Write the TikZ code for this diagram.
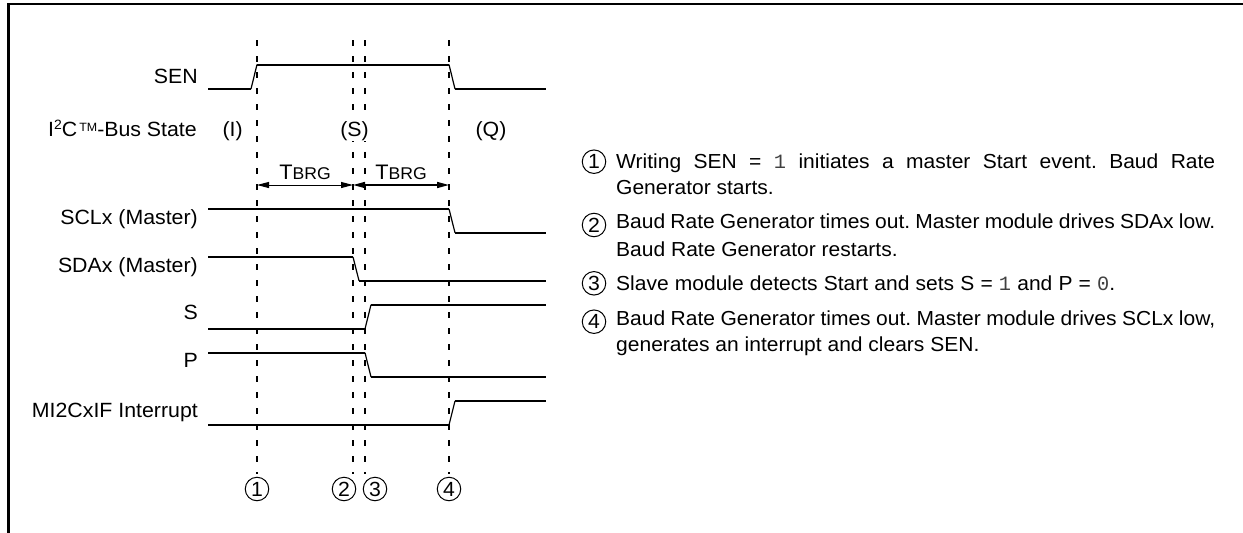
\documentclass[tikz,border=0pt]{standalone}
\usepackage{fontspec}
\setmainfont[FakeStretch=1.035]{Liberation Sans}
\newfontfamily\monof{Liberation Mono}
\usetikzlibrary{arrows.meta}
\newcommand{\mydig}[1]{{\monof\color{black!75}#1}}
\newcommand{\fitline}[2]{\makebox[#1][s]{#2}}
\tikzset{
  x=1pt,y=-1pt,
  signal/.style={line width=2pt,black,line cap=butt},
  ramp/.style={line width=1.2pt,black},
  guide/.style={line width=2pt,dash pattern=on 6pt off 10pt},
  frameline/.style={line width=2.4pt},
  span/.style={line width=#1,{Triangle[length=12pt,width=6pt]}-{Triangle[length=12pt,width=6pt]}},
  lab/.style={anchor=base east,inner sep=0pt,font=\fontsize{20.6}{24}\selectfont},
  state/.style={anchor=base,inner sep=0pt,font=\fontsize{20.6}{24}\selectfont},
  tbrg/.style={anchor=base,inner sep=0pt,font=\fontsize{21}{24}\selectfont},
  num/.style={circle,draw,line width=1pt,minimum size=23.5pt,inner sep=0pt,font=\fontsize{20.5}{22}\selectfont},
  note/.style={anchor=base west,inner sep=0pt,font=\frenchspacing\fontsize{20.3}{24}\selectfont},
}
\begin{document}
\begin{tikzpicture}
\useasboundingbox (0,0) rectangle (1243,533);
\draw[frameline] (8.5,533) -- (8.5,4) -- (1243,4);

% guides
\node[num] (c1) at (257,489) {1};
\node[num] (c2) at (344,489) {2};
\node[num] (c3) at (375,489) {3};
\node[num] (c4) at (449,489) {4};
\coordinate (t1) at (257,40);
\coordinate (t2) at (353,40);
\coordinate (t3) at (365,40);
\coordinate (t4) at (449,40);
\coordinate (b1) at (257,474);
\coordinate (b2) at (353,474);
\coordinate (b3) at (365,474);
\coordinate (b4) at (449,474);
\draw[guide] (t1) -- (b1);
\draw[guide] (t2) -- (b2);
\draw[guide] (t3) -- (b3);
\draw[guide] (t4) -- (b4);

% signals
\draw[signal] (208,89) -- (251,89) (257,64.5) -- (449,64.5) (455,89) -- (546,89);
\draw[ramp] (251,89) -- (257,64.5) (449,64.5) -- (455,89);
\draw[signal] (208,209) -- (449,209) (455,232.7) -- (546,232.7);
\draw[ramp] (449,209) -- (455,232.7);
\draw[signal] (208,257) -- (353,257) (359,280.7) -- (546,280.7);
\draw[ramp] (353,257) -- (359,280.7);
\draw[signal] (208,329) -- (365,329) (371,304.7) -- (546,304.7);
\draw[ramp] (365,329) -- (371,304.7);
\draw[signal] (208,352.7) -- (365,352.7) (371,377) -- (546,377);
\draw[ramp] (365,352.7) -- (371,377);
\draw[signal] (208,425) -- (449,425) (455,401) -- (546,401);
\draw[ramp] (449,425) -- (455,401);

% labels
\node[lab] (lsen) at (198,83) {SEN};
\node[lab] (lbus) at (197,136) {I\raisebox{6.5pt}{\fontsize{13.5}{13}\selectfont 2}C\raisebox{4.5pt}{\fontsize{12}{12}\selectfont\,TM}-Bus State};
\node[lab] (lscl) at (198,224) {SCLx (Master)};
\node[lab] (lsda) at (198,272) {SDAx (Master)};
\node[lab] (ls) at (198,319) {S};
\node[lab] (lp) at (198,367) {P};
\node[lab] (lmi) at (198,417) {MI2CxIF Interrupt};

\node[state] (si) at (232.7,136) {(I)};
\node[state,fill=white,inner ysep=1pt,inner xsep=1pt] (ss) at (354.5,136) {(S)};
\node[state] (sq) at (491,136) {(Q)};

% T_BRG spans
\coordinate (a1) at (257,185);
\coordinate (a2) at (353,185);
\coordinate (a3) at (449,185);
\draw[span=1pt] (a1) -- (a2);
\draw[span=1.6pt] (a2) -- (a3);
\node[tbrg] (tb1) at (305,179) {T{\fontsize{17}{17}\selectfont BRG}};
\node[tbrg] (tb2) at (401,179) {T{\fontsize{17}{17}\selectfont BRG}};

% notes
\node[num] (n1) at (594,161.7) {1};
\node[num] (n2) at (594,225) {2};
\node[num] (n3) at (594,283.3) {3};
\node[num] (n4) at (594,321.7) {4};
\node[note] (t1a) at (616,168.3) {\fitline{599pt}{Writing SEN = \mydig{1} initiates a master Start event. Baud Rate}};
\node[note] (t1b) at (616,194) {Generator starts.};
\node[note] (t2a) at (616,228.7) {\fitline{599pt}{Baud Rate Generator times out. Master module drives SDAx low.}};
\node[note] (t2b) at (616,256) {Baud Rate Generator restarts.};
\node[note] (t3a) at (616,290) {\fitline{499pt}{Slave module detects Start and sets S = \mydig{1} and P = \mydig{0}.}};
\node[note] (t4a) at (616,325) {\fitline{599pt}{Baud Rate Generator times out. Master module drives SCLx low,}};
\node[note] (t4b) at (616,351.7) {generates an interrupt and clears SEN.};
\end{tikzpicture}
\end{document}
